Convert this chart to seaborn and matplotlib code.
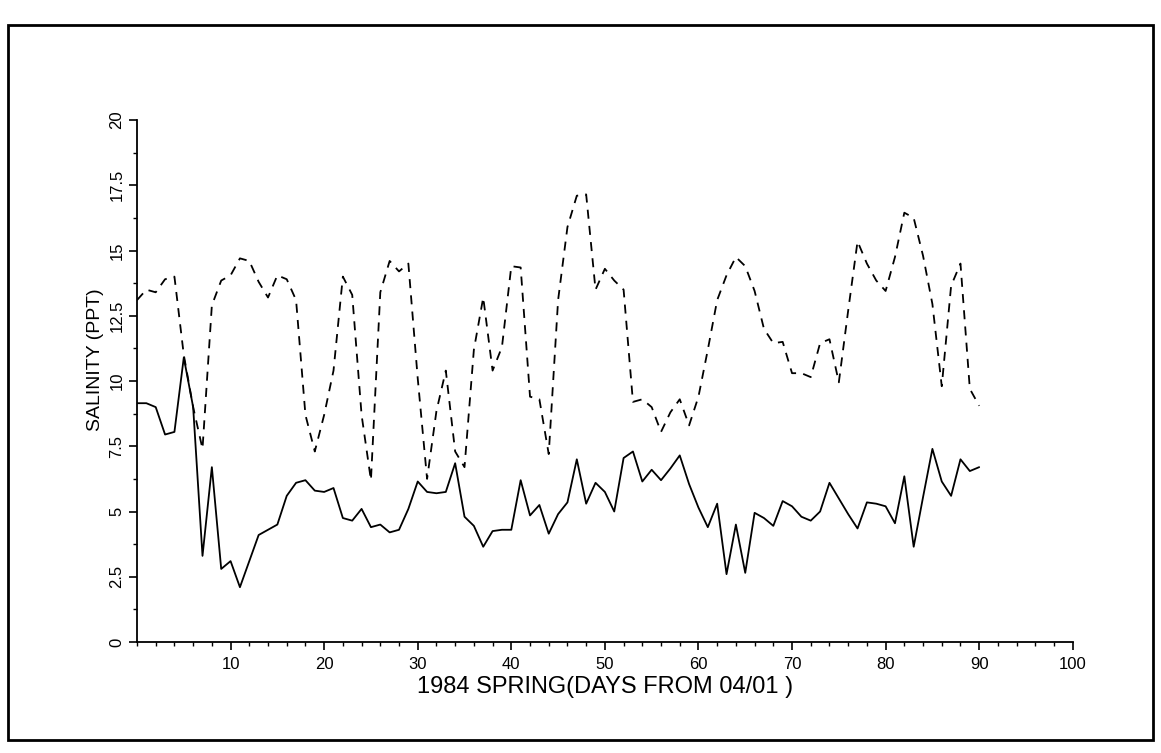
import numpy as np
import pandas as pd
import matplotlib
matplotlib.use("Agg")
import matplotlib.pyplot as plt
import seaborn as sns
from matplotlib.patches import Rectangle
from matplotlib.ticker import MultipleLocator

# days from 04/01
days = list(range(0, 91))

# solid line
sal_solid = [9.15, 9.15, 9.0, 7.95, 8.05, 10.9, 9.0, 3.3, 6.7, 2.8,
             3.1, 2.1, 3.1, 4.1, 4.3, 4.5, 5.6, 6.1, 6.2, 5.8,
             5.75, 5.9, 4.75, 4.65, 5.1, 4.4, 4.5, 4.2, 4.3, 5.1,
             6.15, 5.75, 5.7, 5.75, 6.85, 4.8, 4.45, 3.65, 4.25, 4.3,
             4.3, 6.2, 4.85, 5.25, 4.15, 4.9, 5.35, 7.0, 5.3, 6.1,
             5.75, 5.0, 7.05, 7.3, 6.15, 6.6, 6.2, 6.65, 7.15, 6.05,
             5.15, 4.4, 5.3, 2.6, 4.5, 2.65, 4.95, 4.75, 4.45, 5.4,
             5.2, 4.8, 4.65, 5.0, 6.1, 5.5, 4.9, 4.35, 5.35, 5.3,
             5.2, 4.55, 6.35, 3.65, 5.55, 7.4, 6.15, 5.6, 7.0, 6.55,
             6.7]

# dashed line
sal_dashed = [13.1, 13.5, 13.4, 13.9, 14.0, 11.0, 9.0, 7.4, 12.9, 13.85,
              14.05, 14.7, 14.6, 13.8, 13.2, 14.05, 13.9, 13.1, 8.7, 7.3,
              8.7, 10.4, 14.0, 13.3, 8.7, 6.2, 13.4, 14.6, 14.2, 14.5,
              10.1, 6.25, 8.85, 10.4, 7.3, 6.7, 11.2, 13.2, 10.4, 11.3,
              14.4, 14.35, 9.4, 9.3, 7.2, 13.1, 15.9, 17.1, 17.15, 13.5,
              14.3, 13.85, 13.5, 9.2, 9.3, 9.0, 8.05, 8.8, 9.3, 8.3,
              9.4, 11.2, 13.1, 14.05, 14.75, 14.4, 13.45, 12.0, 11.45, 11.5,
              10.3, 10.3, 10.15, 11.45, 11.6, 9.95, 12.7, 15.35, 14.5, 13.85,
              13.45, 14.75, 16.45, 16.25, 14.8, 12.95, 9.8, 13.65, 14.5, 9.7,
              9.05]

x_ticks = [10, 20, 30, 40, 50, 60, 70, 80, 90, 100]
y_ticks = [0, 2.5, 5, 7.5, 10, 12.5, 15, 17.5, 20]
y_tick_labels = ["0", "2.5", "5", "7.5", "10", "12.5", "15", "17.5", "20"]

df = pd.DataFrame({"day": days, "solid": sal_solid, "dashed": sal_dashed})

sns.set_style("ticks")
plt.rcParams["font.family"] = ["Liberation Sans", "DejaVu Sans"]
plt.rcParams["text.color"] = "black"
plt.rcParams["axes.labelcolor"] = "black"
plt.rcParams["xtick.color"] = "black"
plt.rcParams["ytick.color"] = "black"
plt.rcParams["axes.edgecolor"] = "black"

fig = plt.figure(figsize=(11.61, 7.53), dpi=100)
ax = fig.add_axes([0.118, 0.1474, 0.806, 0.6932])

sns.lineplot(data=df, x="day", y="dashed", color="black", linewidth=1.3,
             linestyle=(0, (5, 4)), ax=ax)
sns.lineplot(data=df, x="day", y="solid", color="black", linewidth=1.3, ax=ax)

ax.set_xlim(0, 100)
ax.set_ylim(0, 20)
ax.set_xticks(x_ticks)
ax.set_xticklabels([str(t) for t in x_ticks], fontsize=12)
ax.xaxis.set_minor_locator(MultipleLocator(2))
ax.set_yticks(y_ticks)
ax.set_yticklabels(y_tick_labels, fontsize=12, rotation=90, va="center")
ax.yaxis.set_minor_locator(MultipleLocator(1.25))

ax.tick_params(axis="both", which="major", direction="out", length=6,
               width=1.2, color="black", labelcolor="black", pad=5)
ax.tick_params(axis="both", which="minor", direction="out", length=3,
               width=1.0, color="black")
ax.tick_params(axis="y", which="major", pad=3)

sns.despine(ax=ax)
ax.spines["left"].set_linewidth(1.3)
ax.spines["bottom"].set_linewidth(1.3)

ax.set_xlabel("1984 SPRING(DAYS FROM 04/01 )", fontsize=17, labelpad=3,
              color="black")
ax.set_ylabel("SALINITY (PPT)", fontsize=14, labelpad=6, color="black")
ax.yaxis.set_label_coords(-0.035, 0.54)

# page frame
fig.patches.append(Rectangle((8 / 1161, 1 - 740 / 753), 1145 / 1161, 715 / 753,
                             transform=fig.transFigure, fill=False,
                             edgecolor="black", linewidth=2))

fig.savefig("out.png", dpi=100, facecolor="white")
